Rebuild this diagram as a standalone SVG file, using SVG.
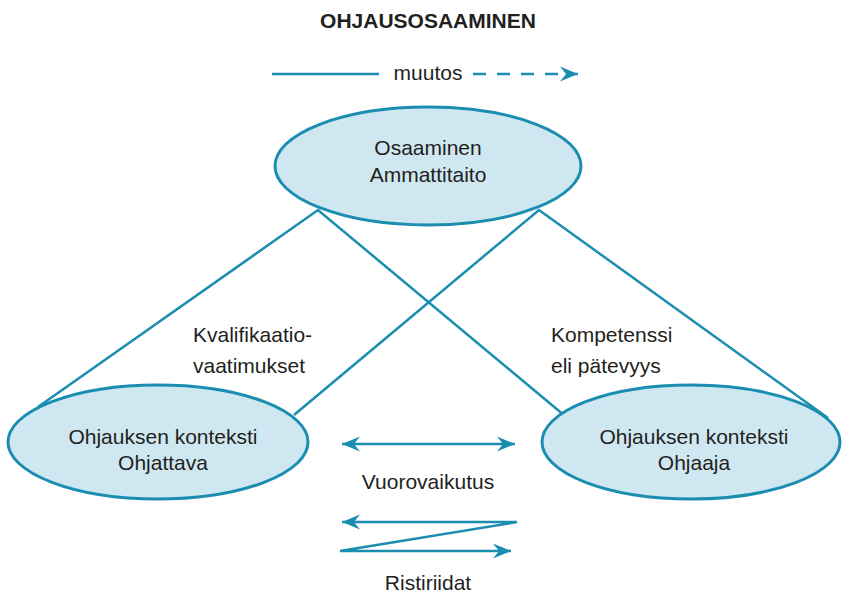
<svg xmlns="http://www.w3.org/2000/svg" width="842" height="593" viewBox="0 0 842 593">
<defs>
<style>
.ln{stroke:#1a8db0;stroke-width:2.5;fill:none}
.ell{fill:#cfe7f1;stroke:#1a8db0;stroke-width:3}
.t{font-family:"Liberation Sans",Arial,sans-serif;font-size:21px;fill:#231f20}
.c{text-anchor:middle}
</style>
<marker id="ah" viewBox="-18 -8 20 16" refX="0" refY="0" markerWidth="20" markerHeight="16" markerUnits="userSpaceOnUse" orient="auto-start-reverse">
<path d="M0,0 L-18,-7.5 L-12,0 L-18,7.5 Z" fill="#1a8db0"/>
</marker>
</defs>
<rect width="842" height="593" fill="#ffffff"/>
<text class="t c" x="428" y="28" font-weight="bold">OHJAUSOSAAMINEN</text>
<g id="legend">
<line class="ln" x1="272" y1="74" x2="379" y2="74"/>
<text class="t c" x="428" y="80">muutos</text>
<line class="ln" x1="473" y1="74" x2="578" y2="74" stroke-dasharray="13 11" marker-end="url(#ah)"/>
</g>
<g id="connectors">
<polyline class="ln" points="38,407 318,210 565,416"/>
<polyline class="ln" points="294,415 539,210 828,418"/>
<line class="ln" x1="342" y1="444" x2="515" y2="444" marker-start="url(#ah)" marker-end="url(#ah)"/>
<polyline class="ln" points="342,522 517,522 340,551 511,551" marker-start="url(#ah)" marker-end="url(#ah)"/>
</g>
<g id="node-top">
<ellipse class="ell" cx="428" cy="166" rx="153" ry="59"/>
<text class="t c" x="428" y="155">Osaaminen</text>
<text class="t c" x="428" y="182">Ammattitaito</text>
</g>
<g id="node-left">
<ellipse class="ell" cx="158" cy="442" rx="150" ry="57"/>
<text class="t c" x="163" y="444">Ohjauksen konteksti</text>
<text class="t c" x="163" y="470">Ohjattava</text>
</g>
<g id="node-right">
<ellipse class="ell" cx="691" cy="442" rx="149" ry="57"/>
<text class="t c" x="694" y="444">Ohjauksen konteksti</text>
<text class="t c" x="694" y="470">Ohjaaja</text>
</g>
<g id="labels">
<text class="t" x="193" y="342">Kvalifikaatio-</text>
<text class="t" x="193" y="373">vaatimukset</text>
<text class="t" x="551" y="342">Kompetenssi</text>
<text class="t" x="551" y="373">eli pätevyys</text>
<text class="t c" x="428" y="489">Vuorovaikutus</text>
<text class="t c" x="428" y="590">Ristiriidat</text>
</g>
</svg>
